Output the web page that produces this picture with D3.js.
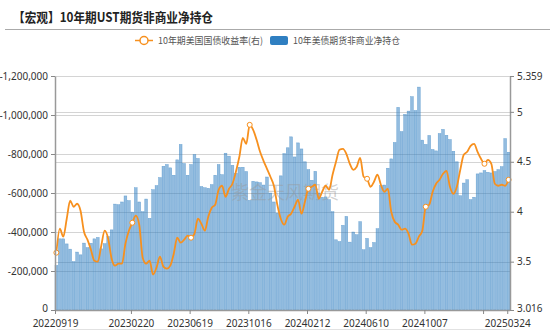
<!DOCTYPE html>
<html><head><meta charset="utf-8">
<script src="https://cdn.jsdelivr.net/npm/d3@7"></script>
<style>body{margin:0;background:#fff;} svg{display:block;font-family:"Noto Sans CJK SC","Noto Sans",sans-serif;}</style>
</head><body><svg id="c" width="550" height="330"></svg>
<script>
const title = "【宏观】10年期UST期货非商业净持仓";
const seriesNames = ["10年期美国国债收益率(右)", "10年美债期货非商业净持仓"];
const startDate = "20220919";
const weekCount = 132;
const xTicks = ["20220919","20230220","20230619","20231016","20240212","20240610","20241007","20250203","20250324"];
const hiddenXLabels = ["20250203"];
const leftTicks = [0,-200000,-400000,-600000,-800000,-1000000,-1200000];
const rightTicks = [3.016,3.5,4,4.5,5,5.359];
const watermark = "紫金天风期货";

// net non-commercial positions (contracts), weekly
const netPositions = [
-228000,-365000,-365000,-339000,-312000,-248000,-297000,-283000,-343000,-320000,
-342000,-365000,-372000,-314000,-340000,-377000,-411000,-543000,-540000,-554000,
-585000,-561000,-502000,-627000,-554000,-504000,-569000,-470000,-617000,-638000,
-679000,-737000,-746000,-729000,-691000,-770000,-849000,-751000,-691000,-746000,
-797000,-777000,-633000,-627000,-624000,-643000,-691000,-746000,-694000,-804000,
-789000,-742000,-701000,-732000,-732000,-710000,-562000,-660000,-657000,-653000,
-641000,-682000,-600000,-554000,-497000,-688000,-802000,-832000,-888000,-785000,
-857000,-826000,-760000,-720000,-665000,-711000,-600000,-578000,-580000,-566000,
-504000,-360000,-351000,-434000,-480000,-348000,-400000,-386000,-453000,-309000,
-367000,-320000,-346000,-417000,-638000,-641000,-727000,-775000,-859000,-1039000,
-915000,-1003000,-1020000,-1094000,-1023000,-1143000,-871000,-849000,-895000,-823000,
-816000,-905000,-926000,-896000,-874000,-814000,-760000,-586000,-651000,-668000,
-566000,-578000,-698000,-703000,-715000,-706000,-703000,-710000,-720000,-735000,
-879000,-809000];

// 10Y treasury yield (%), right axis
const yields = [
3.59,3.83,3.75,3.93,4.11,4.05,4.08,4.01,3.80,3.72,
3.62,3.51,3.50,3.66,3.81,3.73,3.53,3.46,3.48,3.48,
3.68,3.81,3.89,3.96,3.87,3.54,3.48,3.51,3.37,3.44,
3.55,3.45,3.43,3.46,3.58,3.74,3.69,3.72,3.76,3.74,
3.78,3.93,3.88,3.81,3.95,4.04,4.07,4.22,4.26,4.15,
4.23,4.28,4.40,4.55,4.74,4.68,4.87,4.82,4.72,4.60,
4.51,4.43,4.35,4.26,4.07,3.93,3.87,3.95,3.98,4.05,
4.12,3.98,4.10,4.23,4.25,4.27,4.13,4.20,4.26,4.22,
4.37,4.50,4.62,4.63,4.58,4.48,4.42,4.45,4.54,4.35,
4.33,4.25,4.30,4.37,4.27,4.20,4.23,4.00,3.90,3.87,
3.82,3.83,3.78,3.67,3.68,3.75,3.81,4.05,4.07,4.20,
4.28,4.32,4.38,4.41,4.25,4.18,4.25,4.42,4.57,4.60,
4.66,4.68,4.60,4.53,4.48,4.52,4.48,4.28,4.26,4.27,
4.26,4.32];

const parse = d3.utcParse("%Y%m%d"), fmt = d3.utcFormat("%Y%m%d");
const categories = d3.range(weekCount).map(i => fmt(d3.utcDay.offset(parse(startDate), 7*i)));

const svg = d3.select("#c");
const L = 55, R = 510, T = 76, B = 310;
const orange = "#f7901e", blue = "#2f7fc1";

const x = d3.scaleBand().domain(categories).range([L, R]).paddingInner(0.2).paddingOuter(0);
const yL = d3.scaleLinear().domain([0, -1200000]).range([B, T]);
const yR = d3.scaleLinear().domain([3.016, 5.359]).range([B, T]);
const bw = x.bandwidth();

// title
svg.append("text").attr("x", 13).attr("y", 22).attr("font-size", 13).attr("font-weight", "bold")
  .attr("fill", "#222").attr("textLength", 200).attr("lengthAdjust", "spacingAndGlyphs").text(title);
svg.append("line").attr("x1", 5).attr("x2", 550).attr("y1", 29.5).attr("y2", 29.5)
  .attr("stroke", "#aaa").attr("stroke-width", 1);

// legend
const lg = svg.append("g").attr("font-size", 9.5).attr("fill", "#555");
lg.append("line").attr("x1", 135).attr("x2", 153).attr("y1", 40.5).attr("y2", 40.5)
  .attr("stroke", orange).attr("stroke-width", 1.5);
lg.append("circle").attr("cx", 144).attr("cy", 40.5).attr("r", 4).attr("fill", "#fff")
  .attr("stroke", orange).attr("stroke-width", 1.5);
lg.append("text").attr("x", 158).attr("y", 44).attr("textLength", 105)
  .attr("lengthAdjust", "spacingAndGlyphs").text(seriesNames[0]);
lg.append("rect").attr("x", 270).attr("y", 36).attr("width", 18).attr("height", 9).attr("rx", 2)
  .attr("fill", blue);
lg.append("text").attr("x", 293).attr("y", 44).attr("textLength", 107)
  .attr("lengthAdjust", "spacingAndGlyphs").text(seriesNames[1]);

// grid
const grid = svg.append("g").attr("stroke", "#d4d4d4").attr("stroke-width", 1);
leftTicks.filter(d => d !== 0).forEach(d => {
  grid.append("line").attr("x1", L).attr("x2", R).attr("y1", Math.round(yL(d)) + 0.5).attr("y2", Math.round(yL(d)) + 0.5);
});
rightTicks.filter(d => d !== 3.016 && d !== 5.359).forEach(d => {
  grid.append("line").attr("x1", L).attr("x2", R).attr("y1", Math.round(yR(d)) + 0.5).attr("y2", Math.round(yR(d)) + 0.5);
});

// bars
svg.append("g").selectAll("rect").data(netPositions).join("rect")
  .attr("x", (d, i) => x(categories[i]))
  .attr("y", d => yL(d))
  .attr("width", bw)
  .attr("height", d => yL(0) - yL(d))
  .attr("fill", blue).attr("fill-opacity", 0.52)
  .attr("stroke", blue).attr("stroke-opacity", 0.6).attr("stroke-width", 0.5);

// watermark
svg.append("text").attr("x", 285).attr("y", 199).attr("text-anchor", "middle")
  .attr("font-size", 18).attr("fill", "#999").attr("fill-opacity", 0.45).text(watermark);

// line
const cx = i => x(categories[i]) + bw / 2;
const line = d3.line().x((d, i) => cx(i)).y(d => yR(d)).curve(d3.curveMonotoneX);
svg.append("path").datum(yields).attr("d", line).attr("fill", "none")
  .attr("stroke", orange).attr("stroke-width", 1.8);
svg.append("g").selectAll("circle").data(xTicks).join("circle")
  .attr("cx", d => cx(categories.indexOf(d)))
  .attr("cy", d => yR(yields[categories.indexOf(d)]))
  .attr("r", 2.5).attr("fill", "#fff").attr("stroke", orange).attr("stroke-width", 1);

// axes
function styleAxis(g) {
  g.selectAll(".domain").attr("stroke", "#999").attr("stroke-width", 1.5);
  g.selectAll(".tick line").attr("stroke", "#888");
  g.selectAll(".tick text").attr("fill", "#333").attr("font-size", 10)
    .attr("font-family", "'Noto Sans','Noto Sans CJK SC',sans-serif");
}
const ax = svg.append("g").attr("transform", `translate(${L},0)`)
  .call(d3.axisLeft(yL).tickValues(leftTicks).tickSize(4).tickSizeOuter(0)
    .tickFormat(d => d3.format(",")(d).replace("\u2212", "-")));
styleAxis(ax);
ax.selectAll(".tick text").filter(d => d === 0).attr("dy", "0.15em");
const ar = svg.append("g").attr("transform", `translate(${R},0)`)
  .call(d3.axisRight(yR).tickValues(rightTicks).tickSize(4).tickSizeOuter(0)
    .tickFormat(d => String(d)));
styleAxis(ar);
ar.selectAll(".tick text").filter(d => d === 3.016).attr("dy", "0.15em");
const xAxisScale = d3.scalePoint().domain(categories).range([L, L + x.step() * (weekCount - 1)]);
const axb = svg.append("g").attr("transform", `translate(0,${B})`)
  .call(d3.axisBottom(xAxisScale).tickValues(xTicks).tickSize(4).tickSizeOuter(0)
    .tickFormat(d => hiddenXLabels.includes(d) ? "" : d));
styleAxis(axb);
axb.select(".domain").attr("d", `M${L},0.5H${R}`);
axb.selectAll(".tick text").attr("y", 8).attr("dy", "0.85em");

// slider border hint at bottom
svg.append("line").attr("x1", L + 2).attr("x2", R).attr("y1", 329.5).attr("y2", 329.5)
  .attr("stroke", "#e2e2e2").attr("stroke-width", 1);
</script></body></html>
